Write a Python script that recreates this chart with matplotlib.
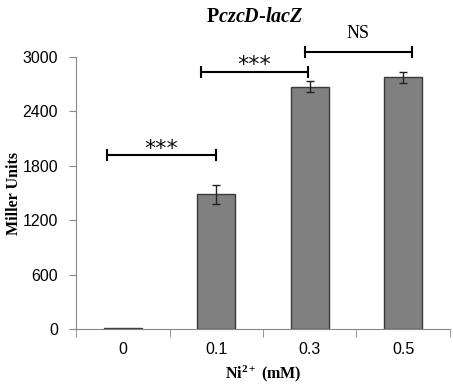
import matplotlib.pyplot as plt
import numpy as np

plt.rcParams['mathtext.fontset'] = 'custom'
plt.rcParams['mathtext.rm'] = 'Liberation Serif:bold'
plt.rcParams['mathtext.bf'] = 'Liberation Serif:bold'
plt.rcParams['mathtext.it'] = 'Liberation Serif:italic:bold'

categories = ['0', '0.1', '0.3', '0.5']
values = [10, 1485, 2672, 2775]
errors = [0, 107, 60, 65]
yticks = [0, 600, 1200, 1800, 2400, 3000]

# significance brackets: (x start, x end, y, label)
brackets = [
    (-0.17, 1.0, 1918, '***'),
    (0.84, 1.98, 2837, '***'),
    (1.95, 3.09, 3057, 'NS'),
]

fig = plt.figure(figsize=(4.53, 3.88), dpi=100)
ax = fig.add_axes([0.168, 0.152, 0.825, 0.701])

x = np.arange(len(categories))
ax.bar(x, values, width=0.41, color='#808080', edgecolor='#3a3a3a', linewidth=1.0)
ax.errorbar(x[1:], values[1:], yerr=errors[1:], fmt='none', ecolor='#222222',
            elinewidth=1.0, capsize=2.6, capthick=1.0)

for x0, x1, y, lab in brackets:
    ax.plot([x0, x1], [y, y], color='black', lw=1.5, clip_on=False)
    for xe in (x0, x1):
        ax.plot([xe, xe], [y - 55, y + 55], color='black', lw=1.5, clip_on=False)
    if lab == 'NS':
        ax.text((x0 + x1) / 2, y + 110, lab, ha='center', va='bottom',
                family='Liberation Serif', fontsize=13)
    else:
        ax.text((x0 + x1) / 2, y - 40, lab, ha='center', va='bottom',
                family='DejaVu Sans', fontsize=16, color='#111111')

ax.set_xlim(-0.5, 3.5)
ax.set_ylim(0, 3000)
ax.set_yticks(yticks)
ax.set_xticks(x)
ax.set_xticklabels(categories)
ax.set_xticks(np.arange(-0.5, 4.0, 1.0), minor=True)
ax.tick_params(axis='x', which='major', length=0, pad=9)
ax.tick_params(axis='x', which='minor', length=6, color='#888888')
ax.tick_params(axis='y', length=5, color='#888888', pad=8)
for lab in ax.get_xticklabels() + ax.get_yticklabels():
    lab.set_family('Liberation Sans')
    lab.set_fontsize(11.5)

for s in ['top', 'right']:
    ax.spines[s].set_visible(False)
for s in ['left', 'bottom']:
    ax.spines[s].set_color('#888888')

ax.set_ylabel('Miller Units', family='Liberation Serif', fontweight='bold',
              fontsize=11.5, va='center')
ax.yaxis.set_label_coords(-0.166, 0.5)
ax.set_xlabel(r'Ni$^{2+}$ (mM)', family='Liberation Serif', fontweight='bold',
              fontsize=11.5, labelpad=5)
fig.text(0.563, 0.955, r'P$\mathit{czcD}$-$\mathit{lacZ}$', ha='center', va='center',
         family='Liberation Serif', fontweight='bold', fontsize=14.5)

fig.savefig('out.png', dpi=100)
